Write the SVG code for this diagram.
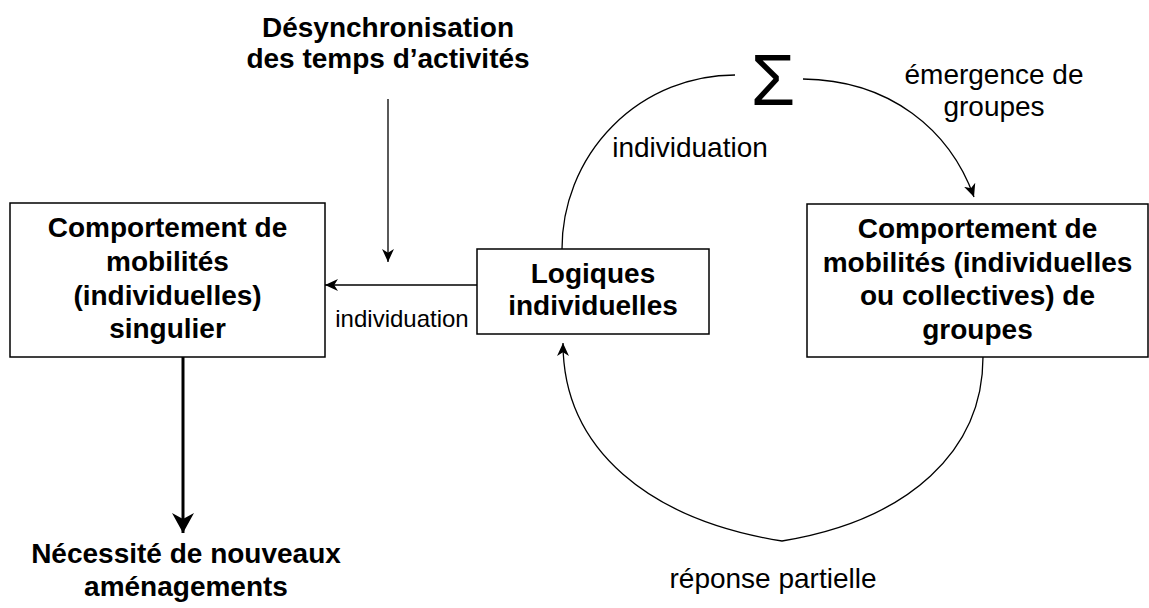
<svg xmlns="http://www.w3.org/2000/svg" width="1149" height="608" viewBox="0 0 1149 608">
<style>
.box{fill:#fff;stroke:#000;stroke-width:1.5}
.b{font-family:"Liberation Sans",Arial,sans-serif;font-weight:bold;font-size:28px;fill:#000;text-anchor:middle}
.n{font-family:"Liberation Sans",Arial,sans-serif;font-size:28px;fill:#000;text-anchor:middle}
.ln{fill:none;stroke:#000;stroke-width:1.3}
</style>
<defs>
<marker id="arr" markerUnits="userSpaceOnUse" viewBox="0 0 12 12" refX="12" refY="6" markerWidth="13" markerHeight="13" orient="auto">
<path d="M0,0.5 L12,6 L0,11.5 L3.5,6 z" fill="#000"/>
</marker>
<marker id="arrBig" markerUnits="userSpaceOnUse" viewBox="0 0 20 22" refX="20" refY="11" markerWidth="20" markerHeight="22" orient="auto">
<path d="M0,0 L20,11 L0,22 L6,11 z" fill="#000"/>
</marker>
</defs>
<rect width="1149" height="608" fill="#fff"/>
<g id="connectors">
<line class="ln" x1="388" y1="99" x2="388" y2="262" marker-end="url(#arr)"/>
<line class="ln" x1="477" y1="285" x2="325" y2="285" marker-end="url(#arr)"/>
<path class="ln" d="M562,249 A173,174 0 0 1 735,75"/>
<path class="ln" d="M803,79 C890,80 950,130 974,197" marker-end="url(#arr)"/>
<path class="ln" d="M983,357 C983,450 910,520 782,541 C650,520 563,450 563,343" marker-end="url(#arr)"/>
<line x1="183" y1="357" x2="183" y2="533" stroke="#000" stroke-width="3" marker-end="url(#arrBig)"/>
<text class="n" x="402" y="327" style="font-size:24px">individuation</text>
<text class="n" x="690" y="157">individuation</text>
<text class="n" x="994" y="84">émergence de</text>
<text class="n" x="994" y="116">groupes</text>
<text class="n" x="773" y="588">réponse partielle</text>
</g>
<g id="desync">
<text class="b" x="388" y="37">Désynchronisation</text>
<text class="b" x="388" y="68">des temps d’activités</text>
</g>
<g id="sigma">
<text class="n" x="773" y="105" style="font-size:72px">Σ</text>
</g>
<g id="node-singulier">
<rect class="box" x="10" y="203" width="315" height="154"/>
<text class="b" x="167.5" y="237">Comportement de</text>
<text class="b" x="167.5" y="271">mobilités</text>
<text class="b" x="167.5" y="305">(individuelles)</text>
<text class="b" x="167.5" y="338">singulier</text>
</g>
<g id="node-logiques">
<rect class="box" x="477" y="249" width="232" height="85"/>
<text class="b" x="593" y="283">Logiques</text>
<text class="b" x="593" y="315">individuelles</text>
</g>
<g id="node-groupes">
<rect class="box" x="807" y="204" width="341" height="153"/>
<text class="b" x="977.5" y="238">Comportement de</text>
<text class="b" x="977.5" y="272">mobilités (individuelles</text>
<text class="b" x="977.5" y="305">ou collectives) de</text>
<text class="b" x="977.5" y="339">groupes</text>
</g>
<g id="node-necessite">
<text class="b" x="186" y="563">Nécessité de nouveaux</text>
<text class="b" x="186" y="596">aménagements</text>
</g>
</svg>
